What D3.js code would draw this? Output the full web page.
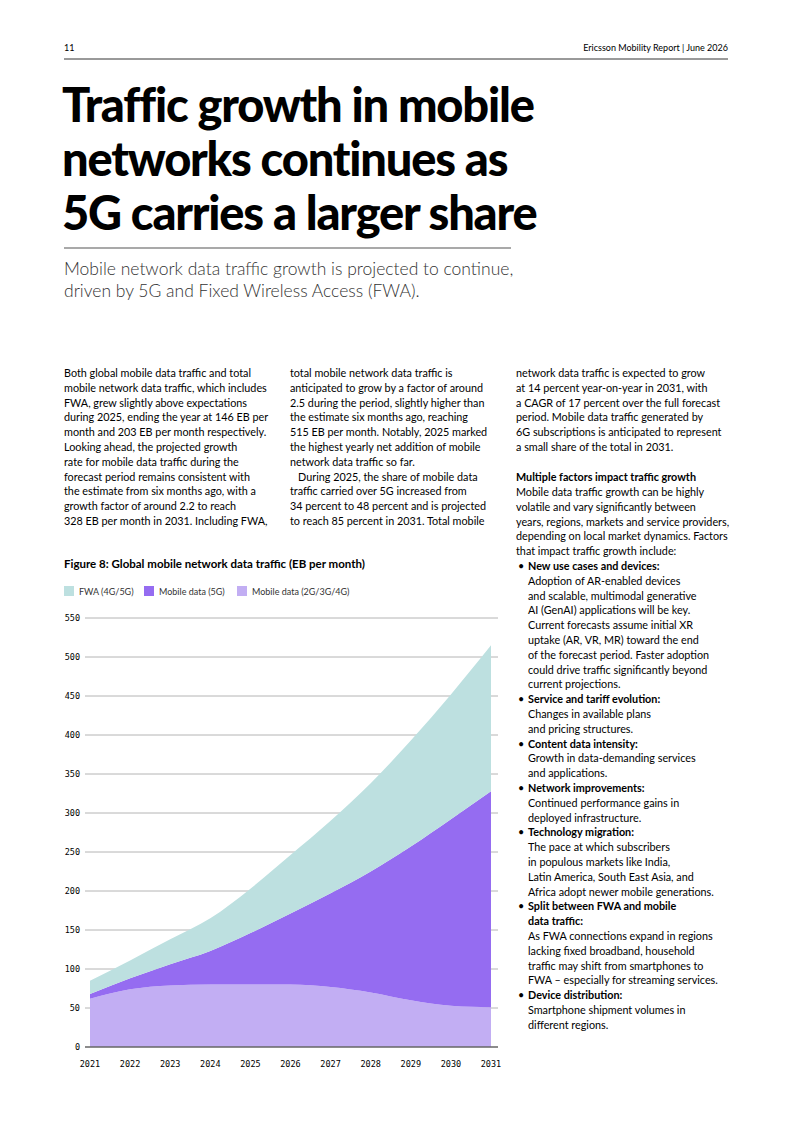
<!DOCTYPE html>
<html lang="en">
<head>
<meta charset="utf-8" />
<script src="https://d3js.org/d3.v7.min.js"></script>
<style>
  body { margin: 0; background: #fff; }
  svg text { font-family: Lato, "Noto Sans", sans-serif; fill: #000; }
  .mono { font-family: "DejaVu Sans Mono", monospace; }
</style>
</head>
<body>
<svg id="page" width="793" height="1121"></svg>
<script>
// chart data (EB per month)
const years = ["2021","2022","2023","2024","2025","2026","2027","2028","2029","2030","2031"];
const legacy = [62, 74, 79, 80, 80, 80, 77, 70, 60, 53, 51];
const fiveG = [6, 14, 27, 43, 66, 91, 120, 155, 197, 239, 277];
const fwa = [17, 23, 32, 42, 57, 75, 93, 113, 136, 160, 187];
const yTicks = [0, 50, 100, 150, 200, 250, 300, 350, 400, 450, 500, 550];
const seriesNames = ["FWA (4G/5G)", "Mobile data (5G)", "Mobile data (2G/3G/4G)"];
const colors = ["#bde0e0", "#956cf1", "#c2aef3"];

const titleLines = ["Traffic growth in mobile", "networks continues as", "5G carries a larger share"];
const subLines = ["Mobile network data traffic growth is projected to continue,",
  "driven by 5G and Fixed Wireless Access (FWA)."];
const col1 = ["Both global mobile data traffic and total",
  "mobile network data traffic, which includes",
  "FWA, grew slightly above expectations",
  "during 2025, ending the year at 146 EB per",
  "month and 203 EB per month respectively.",
  "Looking ahead, the projected growth",
  "rate for mobile data traffic during the",
  "forecast period remains consistent with",
  "the estimate from six months ago, with a",
  "growth factor of around 2.2 to reach",
  "328 EB per month in 2031. Including FWA,"];
const col2 = ["total mobile network data traffic is",
  "anticipated to grow by a factor of around",
  "2.5 during the period, slightly higher than",
  "the estimate six months ago, reaching",
  "515 EB per month. Notably, 2025 marked",
  "the highest yearly net addition of mobile",
  "network data traffic so far.",
  "\u2003During 2025, the share of mobile data",
  "traffic carried over 5G increased from",
  "34 percent to 48 percent and is projected",
  "to reach 85 percent in 2031. Total mobile"];
const col3 = ["network data traffic is expected to grow",
  "at 14 percent year-on-year in 2031, with",
  "a CAGR of 17 percent over the full forecast",
  "period. Mobile data traffic generated by",
  "6G subscriptions is anticipated to represent",
  "a small share of the total in 2031."];
const col3b = ["Mobile data traffic growth can be highly",
  "volatile and vary significantly between",
  "years, regions, markets and service providers,",
  "depending on local market dynamics. Factors",
  "that impact traffic growth include:"];
const bullets = [
  ["New use cases and devices:", ["Adoption of AR-enabled devices", "and scalable, multimodal generative",
    "AI (GenAI) applications will be key.", "Current forecasts assume initial XR",
    "uptake (AR, VR, MR) toward the end", "of the forecast period. Faster adoption",
    "could drive traffic significantly beyond", "current projections."]],
  ["Service and tariff evolution:", ["Changes in available plans", "and pricing structures."]],
  ["Content data intensity:", ["Growth in data-demanding services", "and applications."]],
  ["Network improvements:", ["Continued performance gains in", "deployed infrastructure."]],
  ["Technology migration:", ["The pace at which subscribers", "in populous markets like India,",
    "Latin America, South East Asia, and", "Africa adopt newer mobile generations."]],
  ["Split between FWA and mobile|data traffic:", ["As FWA connections expand in regions",
    "lacking fixed broadband, household", "traffic may shift from smartphones to",
    "FWA \u2013 especially for streaming services."]],
  ["Device distribution:", ["Smartphone shipment volumes in", "different regions."]]
];

const svg = d3.select("#page");

// header
svg.append("text").attr("x", 64).attr("y", 51).attr("font-size", 9).text("11");
svg.append("text").attr("x", 728).attr("y", 51).attr("font-size", 9).attr("text-anchor", "end")
  .text("Ericsson Mobility Report  |  June 2026");
svg.append("line").attr("x1", 64).attr("x2", 728).attr("y1", 59).attr("y2", 59).attr("stroke", "#000").attr("stroke-width", 0.8);

svg.selectAll(".title").data(titleLines).join("text")
  .attr("x", 62).attr("y", (d, i) => 122 + i * 54)
  .attr("font-size", 47).attr("font-weight", 900).attr("letter-spacing", -1.2).text(d => d);
svg.append("line").attr("x1", 64).attr("x2", 511).attr("y1", 248).attr("y2", 248).attr("stroke", "#555").attr("stroke-width", 1.2);
svg.selectAll(".sub").data(subLines).join("text")
  .attr("x", 64).attr("y", (d, i) => 275 + i * 22)
  .attr("font-size", 17.5).attr("font-weight", 300).style("fill", "#333").text(d => d);

function para(lines, x, y0) {
  svg.append("g").selectAll("text").data(lines).join("text")
    .attr("x", x).attr("y", (d, i) => y0 + i * 14.8)
    .attr("font-size", 10.8).text(d => d);
}
para(col1, 64, 377);
para(col2, 290, 377);
para(col3, 516, 377);
svg.append("text").attr("x", 516).attr("y", 481).attr("font-size", 10.8).attr("font-weight", 700)
  .text("Multiple factors impact traffic growth");
para(col3b, 516, 496);

let by = 570;
bullets.forEach(([head, body]) => {
  svg.append("text").attr("x", 518).attr("y", by).attr("font-size", 10.8).text("\u2022");
  head.split("|").forEach(h => {
    svg.append("text").attr("x", 528).attr("y", by).attr("font-size", 10.8).attr("font-weight", 700).text(h);
    by += 14.8;
  });
  para(body, 528, by);
  by += body.length * 14.8;
});

// figure
svg.append("text").attr("x", 64).attr("y", 568).attr("font-size", 11.5).attr("font-weight", 700)
  .text("Figure 8: Global mobile network data traffic (EB per month)");
const lx = [64, 144, 237];
seriesNames.forEach((n, i) => {
  svg.append("rect").attr("x", lx[i]).attr("y", 586).attr("width", 10).attr("height", 10).attr("fill", colors[i]);
  svg.append("text").attr("x", lx[i] + 15).attr("y", 595).attr("font-size", 9).style("fill", "#333").text(n);
});

const x = d3.scalePoint().domain(years).range([90, 491]);
const y = d3.scaleLinear().domain([0, 550]).range([1047, 618]);

const g = svg.append("g");
g.selectAll(".grid").data(yTicks.slice(1)).join("line")
  .attr("x1", 85).attr("x2", 498).attr("y1", d => y(d)).attr("y2", d => y(d))
  .attr("stroke", "#b4b4b4").attr("stroke-width", 1);

const rows = years.map((yr, i) => ({ yr, legacy: legacy[i], fiveG: fiveG[i], fwa: fwa[i] }));
const stack = d3.stack().keys(["legacy", "fiveG", "fwa"])(rows);
const fillOf = { legacy: colors[2], fiveG: colors[1], fwa: colors[0] };
const area = d3.area().x(d => x(d.data.yr)).y0(d => y(d[0])).y1(d => y(d[1])).curve(d3.curveMonotoneX);
g.selectAll(".layer").data(stack).join("path")
  .attr("d", area).attr("fill", d => fillOf[d.key]);

g.append("line").attr("x1", 85).attr("x2", 498).attr("y1", y(0)).attr("y2", y(0))
  .attr("stroke", "#666").attr("stroke-width", 1.5);

g.selectAll(".yl").data(yTicks).join("text").attr("class", "mono")
  .attr("x", 80).attr("y", d => y(d) + 3).attr("text-anchor", "end")
  .attr("font-size", 8.5).text(d => d);
g.selectAll(".xl").data(years).join("text").attr("class", "mono")
  .attr("x", d => x(d)).attr("y", 1067).attr("text-anchor", "middle")
  .attr("font-size", 8.5).text(d => d);
</script>
</body>
</html>
